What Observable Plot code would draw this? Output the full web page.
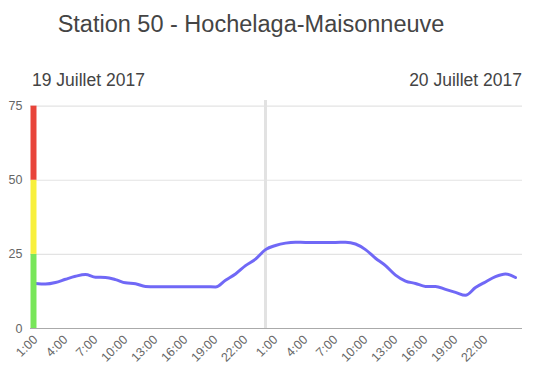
<!DOCTYPE html>
<html>
<head>
<meta charset="utf-8">
<script src="https://cdn.jsdelivr.net/npm/d3@7"></script>
<script src="https://cdn.jsdelivr.net/npm/@observablehq/plot@0.6"></script>
<style>
  html, body { margin: 0; padding: 0; background: #fff; }
  body { width: 540px; height: 371px; overflow: hidden; font-family: "Liberation Sans", Arial, sans-serif; }
  #head { position: relative; height: 92px; width: 540px; }
  #title { position: absolute; left: 0; width: 502px; top: 11px; text-align: center; font-size: 23.5px; color: #444; }
  .date { position: absolute; top: 70px; font-size: 17.5px; color: #444; }
  #d1 { left: 32px; }
  #d2 { right: 18px; }
</style>
</head>
<body>
<div id="head">
  <div id="title"></div>
  <div class="date" id="d1"></div>
  <div class="date" id="d2"></div>
</div>
<div id="chart"></div>
<script>
const title = "Station 50 - Hochelaga-Maisonneuve";
const dayLabels = ["19 Juillet 2017", "20 Juillet 2017"];

// hours counted from 19 July 0:00
const hours = [1,2,3,4,5,6,7,8,9,10,11,12,13,14,15,16,17,18,19,20,21,22,23,24,
               25,26,27,28,29,30,31,32,33,34,35,36,37,38,39,40,41,42,43,44,45,46,47,48,49];
const values = [15.2,15.0,15.5,16.6,17.6,18.2,17.3,17.2,16.5,15.4,15.1,14.2,14.1,14.1,14.1,14.1,14.1,14.1,14.0,16.3,18.4,21.2,23.4,26.6,
                28.0,28.8,29.1,29.0,29.0,29.0,29.0,29.1,28.5,26.6,23.7,21.2,18.0,16.0,15.2,14.2,14.2,13.2,12.2,11.2,13.8,15.7,17.5,18.4,17.2];

const tickHours = [1,4,7,10,13,16,19,22,25,28,31,34,37,40,43,46];
const tickLabels = ["1:00","4:00","7:00","10:00","13:00","16:00","19:00","22:00",
                    "1:00","4:00","7:00","10:00","13:00","16:00","19:00","22:00"];
const yTicks = [0, 25, 50, 75];

const zoneFrom = [0, 25, 50];
const zoneTo = [25, 50, 75];
const zoneColors = ["#78e65a", "#f8f03c", "#e8443a"];

const dayBreak = [24];

document.getElementById("title").textContent = title;
document.getElementById("d1").textContent = dayLabels[0];
document.getElementById("d2").textContent = dayLabels[1];

const data = hours.map((h, i) => ({h, v: values[i]}));
const zones = zoneFrom.map((a, i) => ({y1: a, y2: zoneTo[i], c: zoneColors[i]}));
const labelOf = new Map(tickHours.map((h, i) => [h, tickLabels[i]]));

const chart = Plot.plot({
  width: 540,
  height: 279,
  marginTop: 8,
  marginBottom: 43,
  marginLeft: 30,
  marginRight: 18,
  style: {fontFamily: "Liberation Sans, Arial, sans-serif", fontSize: "12px", color: "#666", background: "#fff"},
  x: {domain: [0.5, 49.7], label: null},
  y: {domain: [0, 76.9], label: null},
  marks: [
    Plot.ruleY([25, 50, 75], {stroke: "#e3e3e3", strokeWidth: 1.2}),
    Plot.ruleX(dayBreak, {stroke: "#e2e2e2", strokeWidth: 3}),
    Plot.ruleY([0], {stroke: "#aaa", strokeWidth: 1.2}),
    Plot.line(data, {x: "h", y: "v", stroke: "#6860f6", strokeWidth: 3, strokeOpacity: 0.95, curve: "monotone-x"}),
    Plot.ruleX(zones, {x: 0.8, y1: "y1", y2: "y2", stroke: "c", strokeWidth: 6}),
    Plot.axisX({ticks: tickHours, tickFormat: d => labelOf.get(d), tickRotate: -45, tickSize: 0, tickPadding: 9, label: null, fill: "#666", fontSize: 12.5}),
    Plot.axisY({ticks: yTicks, tickSize: 0, tickPadding: 8, label: null, fill: "#666", fontSize: 12.5})
  ]
});
document.getElementById("chart").appendChild(chart);
</script>
</body>
</html>
